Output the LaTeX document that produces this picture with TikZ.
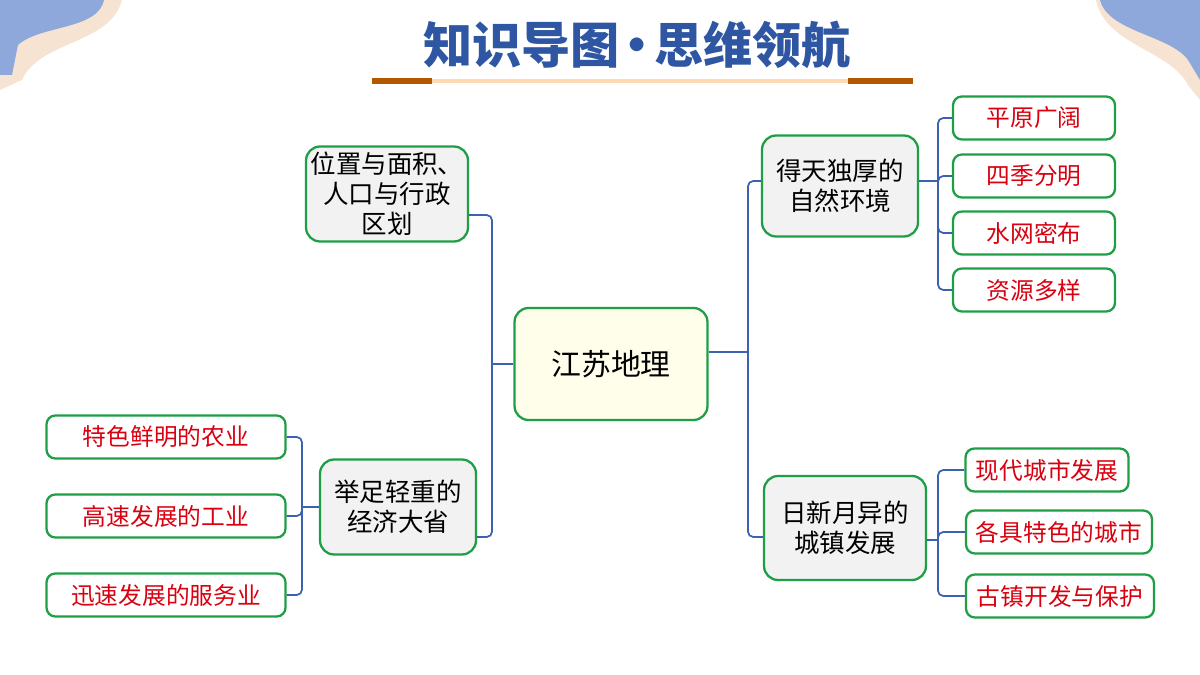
\documentclass[tikz,border=0pt]{standalone}
\usepackage{fontspec}
\setmainfont{Noto Sans CJK SC}
\usetikzlibrary{positioning, calc}
\definecolor{titleblue}{HTML}{2E56A3}
\definecolor{linkblue}{HTML}{3A62B0}
\definecolor{boxgreen}{HTML}{1E9E45}
\definecolor{leafred}{HTML}{D9000F}
\definecolor{wave}{HTML}{8FA8DC}
\definecolor{peach}{HTML}{F7E3D2}

\begin{document}
\begin{tikzpicture}[
    x=0.02cm, y=-0.02cm,
    box/.style={draw=boxgreen, line width=1.3pt, rounded corners=8pt, fill=gray!10, align=center, font=\fontsize{14.5}{17}\selectfont, inner sep=2pt},
    leaf/.style={draw=boxgreen, line width=1.3pt, rounded corners=5pt, fill=white, text=leafred, font=\fontsize{13.5}{16}\selectfont, minimum height=0.86cm, inner sep=2pt},
    link/.style={draw=linkblue, line width=1pt, rounded corners=3pt}
]
    \useasboundingbox (0,0) rectangle (1200,675);

    % corner waves
    \fill[peach] (0,0) -- (122,0) .. controls (110,45) and (40,40) .. (22,80) -- (0,90) -- cycle;
    \fill[wave] (0,0) -- (104,0) .. controls (98,30) and (40,25) .. (18,45) -- (12,75) -- (0,75) -- cycle;
    \fill[peach] (1200,0) -- (1096,0) .. controls (1105,45) and (1170,50) .. (1188,85) -- (1200,100) -- cycle;
    \fill[wave] (1200,0) -- (1100,0) .. controls (1108,32) and (1170,35) .. (1188,60) -- (1200,80) -- cycle;

    % title
    \node[font=\fontsize{28}{32}\selectfont\bfseries, text=titleblue] (title) at (637,45) {知识导图\kern-0.15em\textbullet\kern-0.15em 思维领航};
    \draw[line width=2pt, color=orange!30] (372,81) -- (913,81);
    \draw[line width=3pt, color=orange!70!black] (372,81) -- (432,81);
    \draw[line width=3pt, color=orange!70!black] (848,81) -- (913,81);

    % centre and branches
    \node[box, fill=yellow!8, minimum width=3.86cm, minimum height=2.24cm, font=\fontsize{17}{20}\selectfont] (root) at (611,364) {江苏地理};
    \node[box, minimum width=3.24cm, minimum height=1.9cm] (pos) at (387,194) {位置与面积、\\人口与行政\\区划};
    \node[box, minimum width=3.12cm, minimum height=1.9cm] (econ) at (398,507) {举足轻重的\\经济大省};
    \node[box, minimum width=3.12cm, minimum height=2.02cm] (nature) at (840,186) {得天独厚的\\自然环境};
    \node[box, minimum width=3.24cm, minimum height=2.08cm] (town) at (845,528) {日新月异的\\城镇发展};

    % leaves
    \node[leaf, minimum width=4.78cm] (agri) at (166,437) {特色鲜明的农业};
    \node[leaf, minimum width=4.78cm] (indu) at (166,516) {高速发展的工业};
    \node[leaf, minimum width=4.78cm] (serv) at (166,595) {迅速发展的服务业};
    \node[leaf, minimum width=3.24cm] (plain) at (1034,118) {平原广阔};
    \node[leaf, minimum width=3.24cm] (season) at (1034,176) {四季分明};
    \node[leaf, minimum width=3.24cm] (water) at (1034,233) {水网密布};
    \node[leaf, minimum width=3.24cm] (res) at (1034,290) {资源多样};
    \node[leaf, minimum width=3.26cm] (city) at (1047,470) {现代城市发展};
    \node[leaf, minimum width=3.72cm] (feat) at (1059,532) {各具特色的城市};
    \node[leaf, minimum width=3.76cm] (old) at (1060,596) {古镇开发与保护};

    % connectors
    \coordinate (lbus) at (492,364);
    \coordinate (rbus) at (748,352);
    \draw[link] (root.west) -- (lbus);
    \draw[link] (lbus) |- (pos.east |- 0,215);
    \draw[link] (lbus) |- (econ.east |- 0,537);
    \draw[link] (root.east |- rbus) -- (rbus);
    \draw[link] (rbus) |- (nature.west |- 0,181);
    \draw[link] (rbus) |- (town.west |- 0,537);

    \coordinate (nbus) at (938,181);
    \draw[link] (nature.east |- nbus) -- (nbus);
    \foreach \n in {plain,season,water,res}
        \draw[link] (nbus) |- (\n.west);

    \coordinate (tbus) at (938,540);
    \draw[link] (town.east |- tbus) -- (tbus);
    \foreach \n in {city,feat,old}
        \draw[link] (tbus) |- (\n.west);

    \coordinate (ebus) at (302,507);
    \draw[link] (econ.west) -- (ebus);
    \foreach \n in {agri,indu,serv}
        \draw[link] (ebus) |- (\n.east);
\end{tikzpicture}
\end{document}
